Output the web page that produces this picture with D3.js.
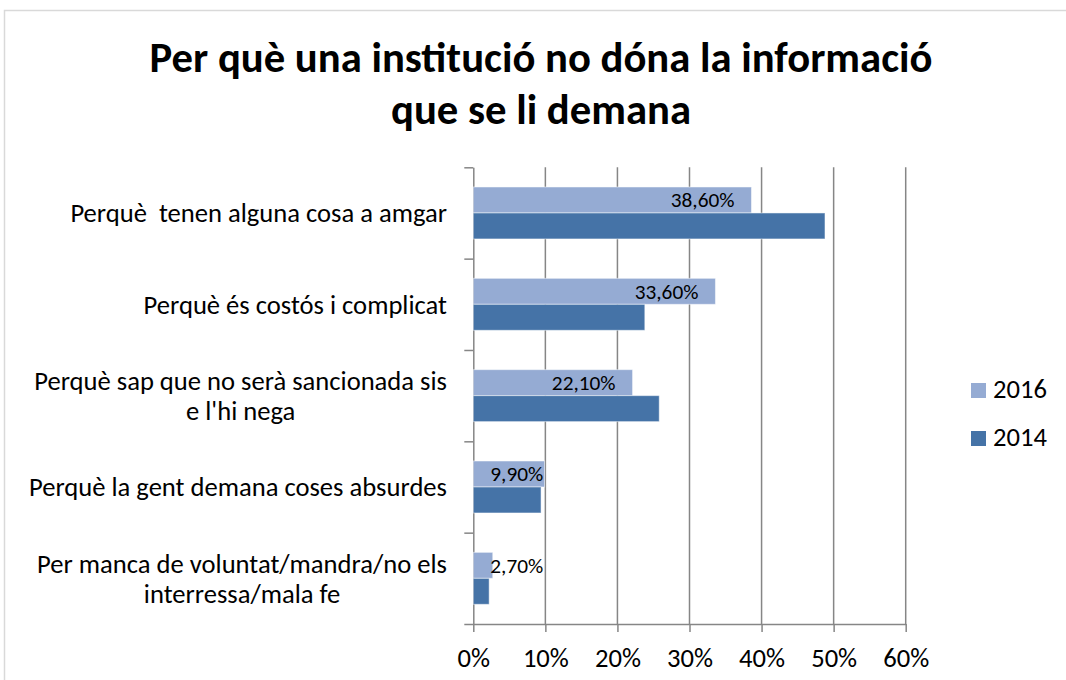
<!DOCTYPE html>
<html>
<head>
<meta charset="utf-8">
<script src="https://cdn.jsdelivr.net/npm/d3@7"></script>
<style>
    html, body { margin: 0; padding: 0; background: #fff; }
    svg text { font-family: Carlito, Calibri, Lato, sans-serif; fill: #000; }
</style>
</head>
<body>
<div class="bar-content"></div>
<script>
// dades del gràfic
var categories = [
    'Perquè  tenen alguna cosa a amgar',
    'Perquè és costós i complicat',
    "Perquè sap que no serà sancionada sis\ne l'hi nega",
    'Perquè la gent demana coses absurdes',
    'Per manca de voluntat/mandra/no els\ninterressa/mala fe'
];
var seriesNames = ['2016', '2014'];
var values2016 = [38.6, 33.6, 22.1, 9.9, 2.7];
var values2014 = [48.8, 23.8, 25.8, 9.4, 2.2];
var xTicks = [0, 10, 20, 30, 40, 50, 60];
var titleLines = ['Per què una institució no dóna la informació', 'que se li demana'];

var svgWidth = 1066,
    svgHeight = 680;

// zona del gràfic
var leftMove = 473.3,
    rightEdge = 905.7,
    topMove = 167.3,
    bottomEdge = 624;

var colors = { '2016': '#95abd3', '2014': '#4573a7' };
var gridColor = '#868686';
var labelSize = '26.6px';

var svg = d3.select('.bar-content')
    .append('svg')
    .attr('width', svgWidth)
    .attr('height', svgHeight);

// marc
svg.append('rect')
    .attr('x', 4.5)
    .attr('y', 10.5)
    .attr('width', svgWidth + 20)
    .attr('height', svgHeight + 20)
    .style('fill', '#fff')
    .style('stroke', '#d9d9d9')
    .style('stroke-width', 1.5);

// títol
svg.append('g')
    .classed('title', true)
    .selectAll('text')
    .data(titleLines)
    .enter()
    .append('text')
    .attr('x', 541)
    .attr('y', function(d, i) { return 72 + i * 52; })
    .attr('text-anchor', 'middle')
    .style('font-size', '42.7px')
    .style('font-weight', 'bold')
    .text(function(d) { return d; });

var xScale = d3.scaleLinear()
    .domain([0, 60])
    .range([leftMove, rightEdge]);

var yScale = d3.scaleBand()
    .domain(categories)
    .range([topMove, bottomEdge])
    .paddingInner(0.431)
    .paddingOuter(0.2155);

var ySub = d3.scaleBand()
    .domain(seriesNames)
    .range([0, yScale.bandwidth()]);

// línies verticals de la graella
svg.append('g')
    .classed('grid', true)
    .selectAll('line')
    .data(xTicks.slice(1))
    .enter()
    .append('line')
    .attr('x1', function(d) { return xScale(d); })
    .attr('x2', function(d) { return xScale(d); })
    .attr('y1', topMove)
    .attr('y2', bottomEdge)
    .style('stroke', gridColor)
    .style('stroke-width', 1.5);

// eix x
var xAxis = d3.axisBottom(xScale)
    .tickValues(xTicks)
    .tickFormat(function(d) { return d + '%'; })
    .tickSizeInner(8)
    .tickSizeOuter(0)
    .tickPadding(16);
var gx = svg.append('g')
    .classed('axis-container xaxis', true)
    .attr('transform', 'translate(0,' + bottomEdge + ')')
    .call(xAxis);
gx.select('.domain').style('stroke', gridColor).style('stroke-width', 1.5);
gx.selectAll('.tick line').style('stroke', gridColor).style('stroke-width', 1.5);
gx.selectAll('.tick text').style('font-size', labelSize);

// eix y (marques entre categories)
var yEdge = d3.scaleLinear()
    .domain([0, categories.length])
    .range([topMove, bottomEdge]);
var yAxis = d3.axisLeft(yEdge)
    .ticks(categories.length)
    .tickFormat('')
    .tickSizeInner(9)
    .tickSizeOuter(0);
var gy = svg.append('g')
    .classed('axis-container yaxis', true)
    .attr('transform', 'translate(' + leftMove + ',0)')
    .call(yAxis);
gy.select('.domain').style('stroke', gridColor).style('stroke-width', 1.5);
gy.selectAll('.tick line').style('stroke', gridColor).style('stroke-width', 1.5);

// etiquetes de categoria
var labelRight = 447,
    lineHeight = 30;
var labelGroup = svg.append('g').classed('cat-labels', true);
categories.forEach(function(c) {
    var lines = c.split('\n');
    var cy = yScale(c) + yScale.bandwidth() / 2;
    var t = labelGroup.append('text')
        .attr('text-anchor', 'middle')
        .style('font-size', labelSize)
        .style('white-space', 'pre');
    lines.forEach(function(l, i) {
        t.append('tspan')
            .attr('y', cy + (i - (lines.length - 1) / 2) * lineHeight)
            .attr('dy', '0.35em')
            .text(l);
    });
    // centrat respecte a la línia més llarga, alineat a la dreta
    var w = 0;
    t.selectAll('tspan').each(function() {
        w = Math.max(w, this.getComputedTextLength());
    });
    t.selectAll('tspan').attr('x', labelRight - w / 2);
});

// barres
var rows = categories.map(function(c, i) {
    return { name: c, '2016': values2016[i], '2014': values2014[i] };
});
var groups = svg.append('g')
    .classed('rect-container', true)
    .selectAll('g')
    .data(rows)
    .enter()
    .append('g')
    .attr('transform', function(d) { return 'translate(0,' + yScale(d.name) + ')'; });

groups.selectAll('rect')
    .data(function(d) {
        return seriesNames.map(function(k) { return { key: k, value: d[k] }; });
    })
    .enter()
    .append('rect')
    .attr('x', xScale(0))
    .attr('y', function(d) { return ySub(d.key); })
    .attr('width', function(d) { return xScale(d.value) - xScale(0); })
    .attr('height', ySub.bandwidth())
    .style('fill', function(d) { return colors[d.key]; })
    .style('stroke', 'rgba(255,255,255,0.5)')
    .style('stroke-width', 1);

// etiquetes de valor (només 2016)
var pad = 17;
groups.append('text')
    .attr('y', ySub('2016') + ySub.bandwidth() / 2)
    .attr('dy', '0.35em')
    .attr('text-anchor', 'end')
    .style('font-size', '21.3px')
    .text(function(d) { return d3.format('.2f')(d['2016']).replace('.', ',') + '%'; })
    .attr('x', function(d) {
        var w = this.getComputedTextLength();
        return Math.max(xScale(d['2016']) - pad, xScale(0) + pad + w);
    });

// llegenda
var legend = svg.append('g')
    .classed('legend', true)
    .selectAll('g')
    .data(seriesNames)
    .enter()
    .append('g')
    .attr('transform', function(d, i) { return 'translate(971,' + (383 + i * 48) + ')'; });
legend.append('rect')
    .attr('width', 15)
    .attr('height', 15)
    .style('fill', function(d) { return colors[d]; });
legend.append('text')
    .attr('x', 22)
    .attr('y', 15)
    .style('font-size', labelSize)
    .text(function(d) { return d; });
</script>
</body>
</html>
